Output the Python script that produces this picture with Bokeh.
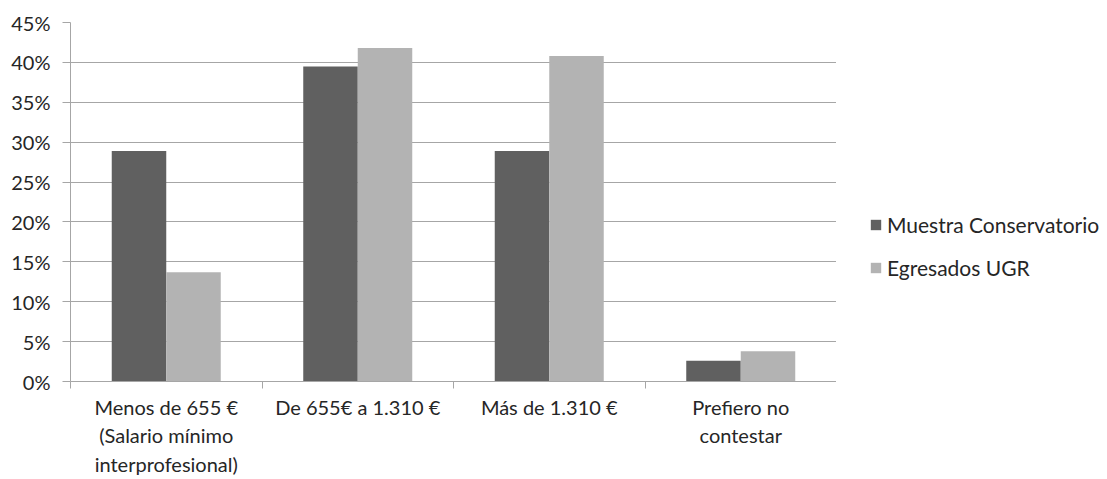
from bokeh.plotting import figure
from bokeh.layouts import row
from bokeh.models import (Range1d, FixedTicker, NumeralTickFormatter, Legend, LegendItem)
from bokeh.embed import file_html
from bokeh.resources import INLINE

categories = ["Menos de 655 €\n(Salario mínimo\ninterprofesional)",
              "De 655€ a 1.310 €",
              "Más de 1.310 €",
              "Prefiero no\ncontestar"]
series_names = ["Muestra Conservatorio", "Egresados UGR"]
conservatorio = [0.289, 0.395, 0.289, 0.026]
ugr = [0.137, 0.418, 0.408, 0.038]
y_ticks = [0, 0.05, 0.10, 0.15, 0.20, 0.25, 0.30, 0.35, 0.40, 0.45]

FONT = "Lato"
FS = "20px"
TXT = "#262626"
GRID = "#a6a6a6"
DARK = "#606060"
LIGHT = "#b3b3b3"
BW = 0.2846

p = figure(width=836, height=479, output_backend="svg", toolbar_location=None,
           x_range=Range1d(0, len(categories)), y_range=Range1d(0, 0.45),
           min_border_left=70, min_border_right=0, min_border_top=22, min_border_bottom=96)
p.outline_line_color = None
p.background_fill_color = "white"
p.border_fill_color = "white"

centers = [i + 0.5 for i in range(len(categories))]
r1 = p.vbar(x=[c - BW / 2 for c in centers], top=conservatorio, width=BW,
            fill_color=DARK, line_color=None)
r2 = p.vbar(x=[c + BW / 2 for c in centers], top=ugr, width=BW,
            fill_color=LIGHT, line_color=None)

# x axis
xa = p.xaxis[0]
xa.ticker = FixedTicker(ticks=centers, minor_ticks=list(range(len(categories) + 1)))
xa.major_label_overrides = {c: lab for c, lab in zip(centers, categories)}
xa.major_tick_out = 0
xa.major_tick_in = 0
xa.minor_tick_out = 7
xa.minor_tick_in = 0
xa.minor_tick_line_color = GRID
xa.axis_line_color = GRID
xa.major_label_text_font = FONT
xa.major_label_text_font_size = FS
xa.major_label_text_color = TXT
xa.major_label_standoff = 6
xa.major_label_text_line_height = 1.2

# y axis
ya = p.yaxis[0]
ya.ticker = FixedTicker(ticks=y_ticks)
ya.formatter = NumeralTickFormatter(format="0%")
ya.major_tick_out = 8
ya.major_tick_in = 0
ya.minor_tick_line_color = None
ya.major_tick_line_color = GRID
ya.axis_line_color = GRID
ya.major_label_text_font = FONT
ya.major_label_text_font_size = FS
ya.major_label_text_color = TXT
ya.major_label_standoff = 12

p.xgrid.grid_line_color = None
p.ygrid.ticker = FixedTicker(ticks=y_ticks)
p.ygrid.grid_line_color = GRID

# legend panel
p2 = figure(width=271, height=479, output_backend="svg", toolbar_location=None,
            x_range=Range1d(0, 1), y_range=Range1d(0, 1),
            min_border_left=0, min_border_right=0, min_border_top=0, min_border_bottom=0)
p2.axis.visible = False
p2.grid.grid_line_color = None
p2.outline_line_color = None
p2.background_fill_color = "white"
p2.border_fill_color = "white"
# swatch renderers lie outside the visible range; they only feed the legend
l1 = p2.vbar(x=[5], top=[1], width=0.1, fill_color=DARK, line_color=None)
l2 = p2.vbar(x=[5], top=[1], width=0.1, fill_color=LIGHT, line_color=None)

legend = Legend(items=[LegendItem(label=series_names[0], renderers=[l1]),
                       LegendItem(label=series_names[1], renderers=[l2])],
                location=(33, 101))
legend.glyph_width = 13
legend.glyph_height = 13
legend.label_text_font = FONT
legend.label_text_font_size = "21px"
legend.label_text_color = TXT
legend.label_height = 24
legend.spacing = 18
legend.padding = 0
legend.margin = 0
legend.label_standoff = 5
legend.border_line_color = None
legend.background_fill_alpha = 0
p2.add_layout(legend, "center")

layout = row(p, p2)
open("out.html", "w").write(file_html(layout, INLINE))
